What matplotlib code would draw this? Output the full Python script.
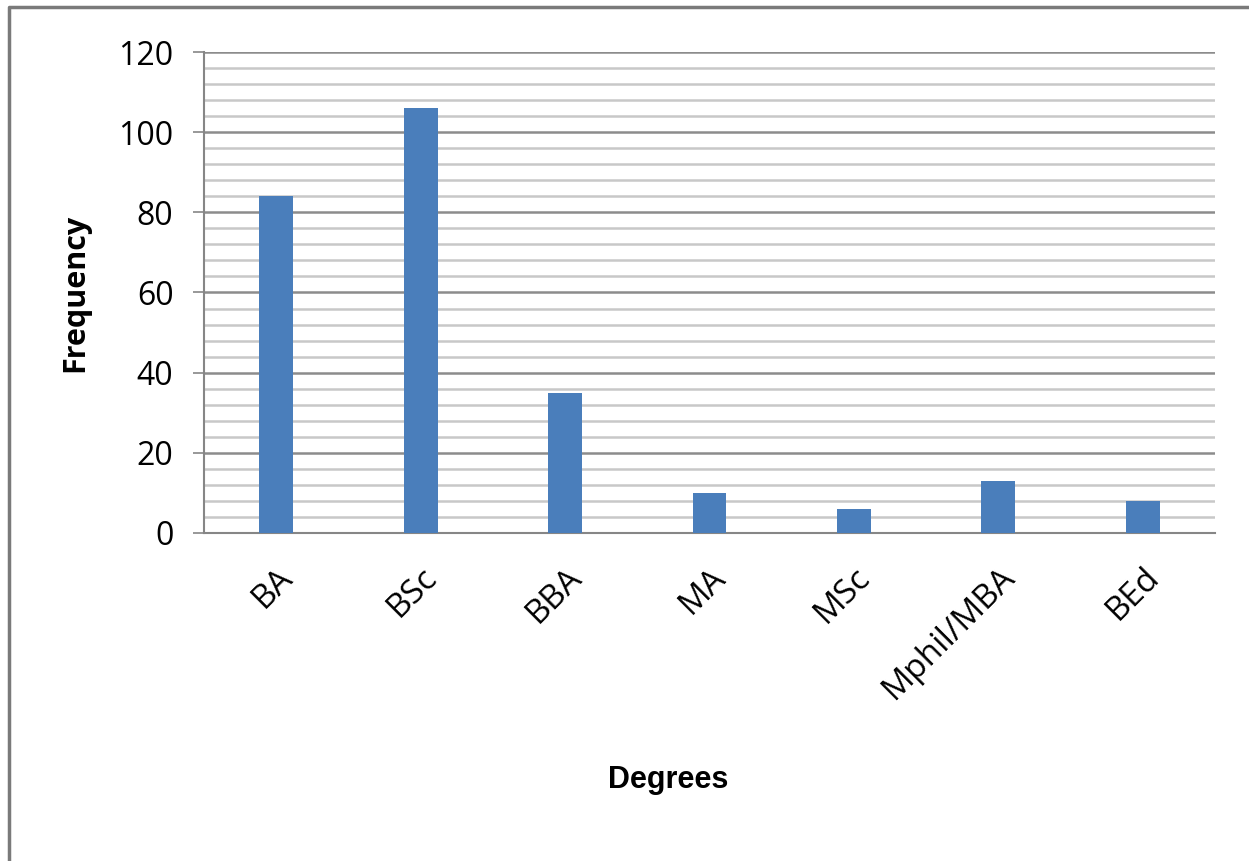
import numpy as np
import matplotlib.pyplot as plt
from matplotlib.lines import Line2D

degrees = ['BA', 'BSc', 'BBA', 'MA', 'MSc', 'Mphil/MBA', 'BEd']
frequency = [84, 106, 35, 10, 6, 13, 8]
y_ticks = [0, 20, 40, 60, 80, 100, 120]

fig = plt.figure(figsize=(12.49, 8.61), dpi=100)
ax = fig.add_axes([0.1633, 0.381, 0.8095, 0.5586])

ind = np.arange(len(degrees))
ax.bar(ind, frequency, 0.235, color='#4a7ebb', zorder=3)

ax.set_xlim(-0.5, len(degrees) - 0.5)
ax.set_ylim(0, 120)
ax.set_yticks(y_ticks)
ax.set_yticks(np.arange(0, 121, 4), minor=True)
ax.set_yticklabels([str(v) for v in y_ticks], fontsize=23, family='Open Sans')
ax.tick_params(axis='y', which='major', length=8, color='#868686', width=1.2, pad=14)
ax.tick_params(axis='y', which='minor', length=0)

# minor then major horizontal grid
ax.grid(axis='y', which='minor', color='#c8c8c8', lw=1.8, zorder=0)
ax.grid(axis='y', which='major', color='#8c8c8c', lw=1.8, zorder=1)

ax.set_xticks(ind)
ax.set_xticklabels(degrees, rotation=45, ha='right', rotation_mode='anchor',
                   fontsize=24, family='Open Sans')
ax.tick_params(axis='x', length=0, pad=20)

for s in ['top', 'right']:
    ax.spines[s].set_visible(False)
ax.spines['left'].set_color('#868686')
ax.spines['bottom'].set_color('#868686')
ax.spines['left'].set_linewidth(1.5)
ax.spines['bottom'].set_linewidth(1.5)

ax.set_ylabel('Frequency', fontsize=22, fontweight='bold', family='Open Sans', labelpad=20)
fig.text(0.535, 0.0945, 'Degrees', fontsize=22, fontweight='bold',
         family=['Liberation Sans Narrow', 'Liberation Sans'], ha='center', va='center')

# outer chart frame (cut at right and bottom)
fig.add_artist(Line2D([9 / 1249, 9 / 1249, 1.0], [0.0, 1 - 7 / 861, 1 - 7 / 861],
                      transform=fig.transFigure, color='#7a7a7a', lw=2.5))

fig.savefig('out.png', dpi=100)
